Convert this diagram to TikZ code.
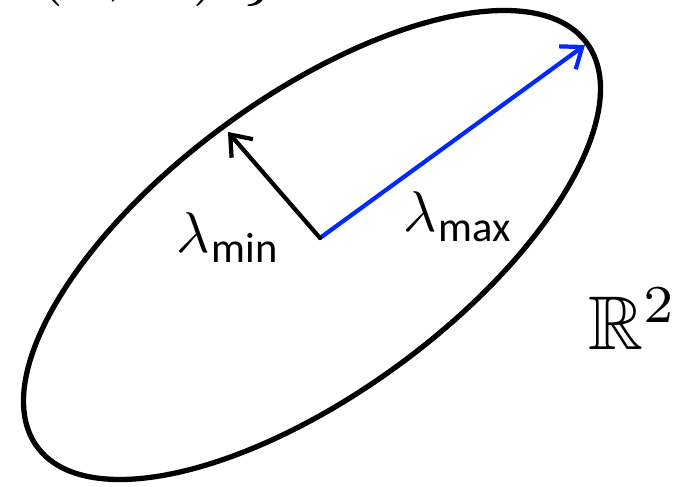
\documentclass[tikz,border=0pt]{standalone}
\usepackage{amssymb}
\usepackage{fontspec}
\setsansfont{Carlito}
\usetikzlibrary{arrows.meta}
\definecolor{axisblue}{RGB}{0,40,255}
\newcommand{\lamsub}[1]{$\lambda$\kern0.3pt\raisebox{-1.7pt}{\sffamily\fontsize{7.4}{8}\selectfont #1}}
\tikzset{
    axis/.style={-{Straight Barb[length=5.5mm,width=8.5mm]}, line width=3.6pt, line cap=round},
    biglabel/.style={anchor=base west, inner sep=0pt, scale=4.9}
}
\begin{document}
\begin{tikzpicture}[x=0.03cm,y=0.03cm]
    \useasboundingbox (0,0) rectangle (683,487);
    \draw [line width=4.5pt, rotate around={36.3:(312,242)}] (312,242) ellipse [x radius=341, y radius=148];
    \coordinate (o) at (320,249);
    \coordinate (tipmax) at (585,442);
    \coordinate (tipmin) at (228,355);
    \draw [axis, axisblue] (o) -- (tipmax);
    \draw [axis] (o) -- (tipmin);
    % labels
    \node [biglabel] (lmin) at (175,234) {\lamsub{min}};
    \node [biglabel] (lmax) at (402,255) {\lamsub{max}};
    \node [biglabel, scale=6.5/4.9] (space) at (587,137) {$\mathbb{R}^2$};
    \node [biglabel, scale=6.5/4.9] (pair) at (33,499) {$(a,\;b)\;\}$};
\end{tikzpicture}
\end{document}
